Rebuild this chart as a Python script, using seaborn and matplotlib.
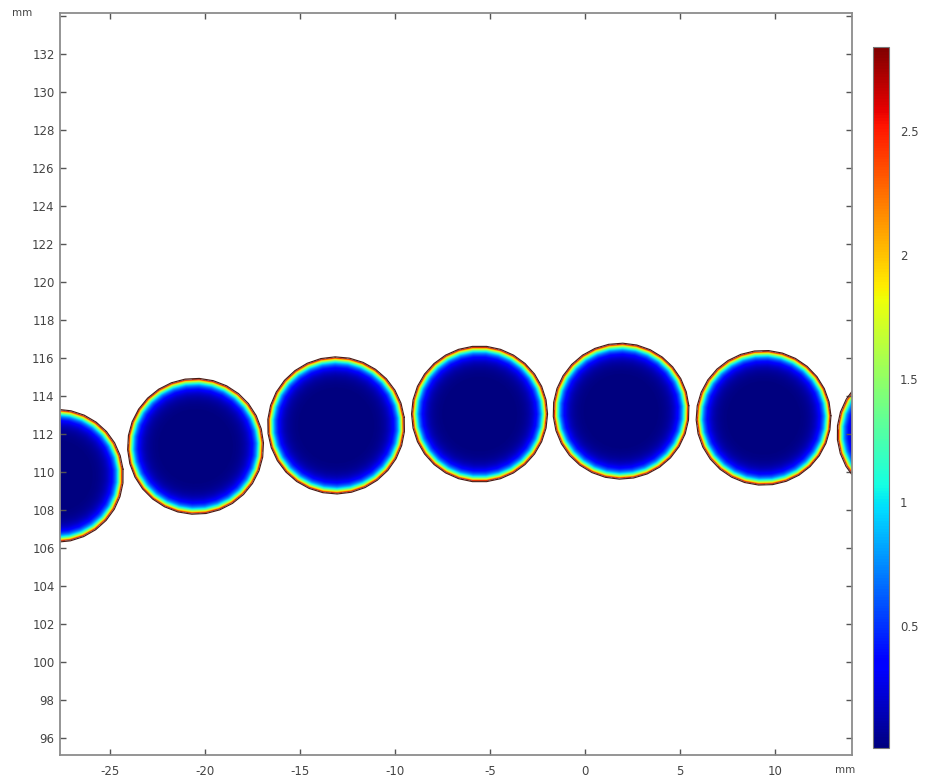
import numpy as np
import matplotlib
matplotlib.use("Agg")
import matplotlib.pyplot as plt
from matplotlib.path import Path
import seaborn as sns

# Droplet cross-sections (mm)
center_x = [-27.8, -20.5, -13.1, -5.55, 1.9, 9.4, 16.8]
center_y = [109.8, 111.35, 112.45, 113.05, 113.2, 112.85, 112.05]
radius = [3.47, 3.55, 3.58, 3.55, 3.55, 3.52, 3.5]
facet_count = [30, 30, 30, 30, 30, 30, 30]
facet_phase = [0.10, 0.05, 0.12, 0.00, 0.08, 0.03, 0.10]  # rad

# Surface field: peak on the boundary, sharp skin layer plus a slower inward decay
skin_amplitude = 1.20
skin_length = 0.15  # mm
core_amplitude = 1.64
core_length = 0.35  # mm
min_value = 0.008
peak_value = skin_amplitude + core_amplitude

x_ticks = [-25, -20, -15, -10, -5, 0, 5, 10]
y_ticks = list(range(96, 136, 2))
cbar_ticks = [0.5, 1, 1.5, 2, 2.5]
x_lim = (-27.63, 14.05)
y_lim = (95.1, 134.16)

sns.set_theme(style="white")
plt.rcParams["font.family"] = ["DejaVu Sans"]

fig = plt.figure(figsize=(9.35, 7.79), dpi=100)
W, H = 935, 779
ax = fig.add_axes([60 / W, 24 / H, 792 / W, 742 / H])

step = 0.025
xs = np.arange(x_lim[0] - 0.5, x_lim[1] + 0.5, step)
ys = np.arange(y_lim[0] - 0.5, y_lim[1] + 0.5, step)
GX, GY = np.meshgrid(xs, ys)
field = np.full(GX.shape, np.nan)


def facet_polygon(cx, cy, r, n, phase):
    ang = phase + np.linspace(0, 2 * np.pi, n + 1)
    return cx + r * np.cos(ang), cy + r * np.sin(ang)


outlines = []
for cx, cy, r, n, ph in zip(center_x, center_y, radius, facet_count, facet_phase):
    px, py = facet_polygon(cx, cy, r, n, ph)
    outlines.append(facet_polygon(cx, cy, r + 0.03, n, ph))
    sel = (np.abs(GX - cx) <= r + 0.1) & (np.abs(GY - cy) <= r + 0.1)
    pts = np.column_stack([GX[sel], GY[sel]])
    verts = np.column_stack([px, py])
    inside = Path(verts).contains_points(pts)
    # distance from each point to the faceted boundary
    A = verts[:-1]
    B = verts[1:]
    AB = B - A
    AP = pts[:, None, :] - A[None, :, :]
    t = np.clip((AP * AB[None]).sum(-1) / (AB ** 2).sum(-1)[None], 0, 1)
    proj = A[None] + t[..., None] * AB[None]
    dist = np.sqrt(((pts[:, None, :] - proj) ** 2).sum(-1)).min(axis=1)
    vals = (skin_amplitude * np.exp(-dist / skin_length)
            + core_amplitude * np.exp(-dist / core_length))
    vals = np.maximum(vals, min_value)
    vals[~inside] = np.nan
    sub = field[sel]
    sub = np.where(np.isnan(vals), sub, vals)
    field[sel] = sub

im = ax.imshow(field, extent=(xs[0] - step / 2, xs[-1] + step / 2,
                              ys[0] - step / 2, ys[-1] + step / 2),
               origin="lower", cmap="jet", vmin=min_value, vmax=peak_value,
               interpolation="bilinear", aspect="equal")

for px, py in outlines:
    sns.lineplot(x=px, y=py, sort=False, estimator=None, ax=ax,
                 color="#4a1a12", linewidth=0.8, legend=False)

ax.set_xlim(*x_lim)
ax.set_ylim(*y_lim)
ax.set_aspect("equal")
ax.set_xticks(x_ticks)
ax.set_xticklabels([str(v) for v in x_ticks])
ax.set_yticks(y_ticks)
ax.set_yticklabels([str(v) if v < 134 else "" for v in y_ticks])
ax.set_xlabel("")
ax.set_ylabel("")
ax.tick_params(axis="both", direction="in", length=4, width=1.0,
               color="#555555", labelcolor="#444444", labelsize=8.5,
               top=True, right=True, bottom=True, left=True)
ax.tick_params(axis="x", pad=7)
ax.tick_params(axis="y", pad=4)
for s in ax.spines.values():
    s.set_color("#8c8c8c")
    s.set_linewidth(1.3)
ax.grid(False)

fig.text(22 / W, 1 - 13 / H, "mm", ha="center", va="center",
         fontsize=7.5, color="#444444")
fig.text(845 / W, 1 - 770 / H, "mm", ha="center", va="center",
         fontsize=7.5, color="#444444")

cax = fig.add_axes([873 / W, 31 / H, 16 / W, 701 / H])
cb = fig.colorbar(im, cax=cax)
cb.set_ticks(cbar_ticks)
cb.set_ticklabels(["0.5", "1", "1.5", "2", "2.5"])
cax.tick_params(direction="in", length=3, width=1.0, color="#222222",
                left=True, right=True, labelcolor="#444444", labelsize=8.5,
                pad=8)
cb.outline.set_edgecolor("#777777")
cb.outline.set_linewidth(0.8)

fig.savefig("out.png", dpi=100)
